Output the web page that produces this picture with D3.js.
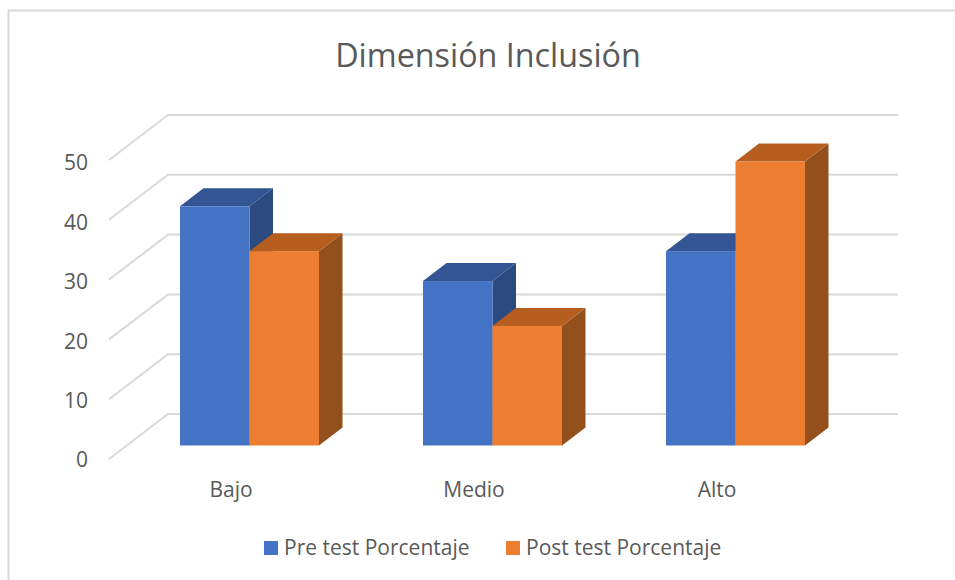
<!DOCTYPE html>
<html><head><meta charset="utf-8">
<script src="https://cdn.jsdelivr.net/npm/d3@7"></script>
<style>html,body{margin:0;padding:0;background:#fff}svg{display:block}text{font-family:"Open Sans",sans-serif;fill:#595959}</style>
</head><body><svg id="c" width="955" height="580"></svg>
<script>
const categories = ["Bajo","Medio","Alto"];
const seriesNames = ["Pre test Porcentaje","Post test Porcentaje"];
const preValues = [40,27.5,32.5];
const postValues = [32.5,20,47.5];
const tickValues = [0,10,20,30,40,50];
const chartTitle = "Dimensión Inclusión";

const colors = [{front:"#4472c4",top:"#335593",side:"#2a4a80"},{front:"#ed7d31",top:"#b55e20",side:"#94501c"}];
const svg = d3.select("#c");
const yBack = d3.scaleLinear().domain([0,50]).range([414,115]);
const yLabel = d3.scaleLinear().domain([0,50]).range([460,163]);
const x0 = d3.scaleBand().domain(categories).range([128,857]);
const x1 = d3.scaleBand().domain([0,1]).range([0,139]);
const pad = (x0.bandwidth()-139)/2;
const depthX = 23.5, depthY = 18, wallX = 59, wallY = 45, barDrop = 31.5;

svg.append("path").attr("d","M8.5,580V10.5H955").attr("fill","none").attr("stroke","#d9d9d9").attr("stroke-width",2);

svg.append("text").attr("x",488).attr("y",67).attr("text-anchor","middle").attr("font-size",32.3).text(chartTitle);

const g = svg.append("g").attr("fill","none").attr("stroke","#d9d9d9").attr("stroke-width",2);
g.selectAll("path").data(tickValues).join("path")
 .attr("d",v=>{const y=yBack(v);return `M109,${y+wallY}L168,${y}H898`;});

svg.append("g").selectAll("text").data(tickValues).join("text")
 .attr("x",88).attr("y",v=>yLabel(v)).attr("dy","0.35em").attr("text-anchor","end").attr("font-size",21).text(d=>d);

const series = [preValues,postValues];
const bars = [];
categories.forEach((c,i)=>series.forEach((s,k)=>bars.push({c,k,v:s[i]})));
const bottom = yBack(0)+barDrop;
const bg = svg.append("g").selectAll("g").data(bars).join("g");
bg.each(function(d){
  const sel=d3.select(this), l=x0(d.c)+pad+x1(d.k), w=x1.bandwidth(), r=l+w, t=yBack(d.v)+barDrop, col=colors[d.k];
  sel.append("path").attr("fill",col.side).attr("d",`M${r},${t}L${r+depthX},${t-depthY}V${bottom-depthY}L${r},${bottom}Z`);
  sel.append("path").attr("fill",col.top).attr("d",`M${l},${t}L${l+depthX},${t-depthY}H${r+depthX}L${r},${t}Z`);
  sel.append("rect").attr("fill",col.front).attr("x",l).attr("y",t).attr("width",w).attr("height",bottom-t);
});

svg.append("g").selectAll("text").data(categories).join("text")
 .attr("x",c=>x0(c)+x0.bandwidth()/2-18.5).attr("y",490).attr("dy","0.35em").attr("text-anchor","middle").attr("font-size",21).text(d=>d);

const lx=[264,506];
const lg=svg.append("g").selectAll("g").data(seriesNames).join("g");
lg.append("rect").attr("x",(d,i)=>lx[i]).attr("y",541).attr("width",14).attr("height",14).attr("fill",(d,i)=>colors[i].front);
lg.append("text").attr("x",(d,i)=>lx[i]+20).attr("y",548).attr("dy","0.35em").attr("font-size",21).text(d=>d);
</script></body></html>
